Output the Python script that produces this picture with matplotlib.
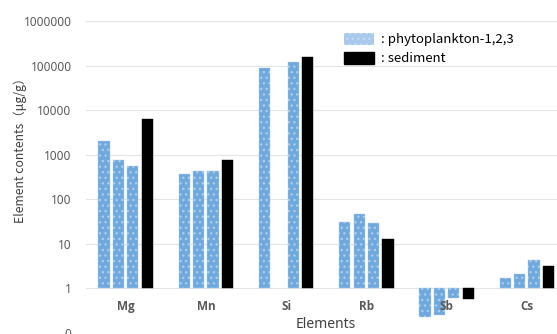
import numpy as np
import matplotlib
matplotlib.use('Agg')
import matplotlib.pyplot as plt
from matplotlib.patches import Patch
from matplotlib.ticker import FixedLocator, FuncFormatter, NullLocator
from matplotlib.transforms import blended_transform_factory, offset_copy

elements = ['Mg', 'Mn', 'Si', 'Rb', 'Sb', 'Cs']
phyto_1 = [1980, 360, 87000, 30.5, 0.226, 1.71]
phyto_2 = [750, 440, np.nan, 46.5, 0.247, 2.14]
phyto_3 = [560, 440, 118000, 30.0, 0.62, 4.42]
sediment = [6350, 750, 158000, 12.6, 0.575, 3.24]
y_ticks = [0.1, 1, 10, 100, 1000, 10000, 100000, 1000000]

plt.rcParams['font.family'] = ['Noto Sans', 'DejaVu Sans']
plt.rcParams['hatch.linewidth'] = 1.0

fig = plt.figure(figsize=(5.57, 3.34), dpi=100)
# plot area runs off the right and bottom of the picture, as in the reference
ax = fig.add_axes([85.5 / 557, 1 - 333 / 334, 481.5 / 557, 312 / 334])

x = np.arange(len(elements))
pitch = 0.18
width = 0.14
blue = '#6ea8dc'
hatch_col = '#a9cdef'

for k, vals in enumerate([phyto_1, phyto_2, phyto_3]):
    vals = np.array(vals, dtype=float)
    ax.bar(x + (k - 1.5) * pitch, vals - 1, bottom=1, width=width,
           color=blue, edgecolor=hatch_col, hatch='...', linewidth=0.3, zorder=3)
sed = np.array(sediment, dtype=float)
ax.bar(x + 1.5 * pitch, sed - 1, bottom=1, width=width,
       color='black', edgecolor='black', linewidth=0.3, zorder=3)

ax.set_yscale('log')
ax.set_ylim(0.1, 1000000)
ax.set_xlim(-0.5, len(elements) - 0.5)
ax.yaxis.set_major_locator(FixedLocator(y_ticks))
ax.yaxis.set_minor_locator(NullLocator())
ax.yaxis.set_major_formatter(FuncFormatter(lambda v, p: '%d' % int(v)))
ax.grid(axis='y', color='#e3e3e3', linewidth=0.8, zorder=0)

for s in ['top', 'right', 'left', 'bottom']:
    ax.spines[s].set_visible(False)

# category labels sit just under the y=1 baseline, above the Sb bars
ax.set_xticks([])
trans = offset_copy(blended_transform_factory(ax.transData, ax.transData),
                    fig=fig, x=0, y=-18.5, units='dots')
for xi, name in zip(x, elements):
    ax.text(xi, 1, name, transform=trans, ha='center', va='center',
            fontsize=8.5, fontweight='bold', family='Open Sans',
            color='#595959', zorder=5)

ax.tick_params(axis='both', length=0, labelsize=8.5, labelcolor='#595959')
ax.tick_params(axis='y', pad=10)

ax.set_xlabel('Elements', fontsize=10, color='#404040')
ax.xaxis.set_label_coords(0.5, 1 - (325 - 21) / 312)
ax.xaxis.label.set_va('center')
ax.set_ylabel('Element contents（μg/g）', fontsize=8.8, color='#404040',
              family=['Noto Sans CJK JP', 'DejaVu Sans'])
ax.yaxis.set_label_coords(-0.136, 0.596)
ax.yaxis.label.set_va('center')

handles = [Patch(facecolor='#a9c9ec', edgecolor='#c3daf3', hatch='...', linewidth=0),
           Patch(facecolor='black', edgecolor='black')]
fig.legend(handles, [': phytoplankton-1,2,3', ': sediment'],
           loc='upper left', bbox_to_anchor=(344 / 557, 1 - 32.5 / 334),
           frameon=False, borderpad=0, borderaxespad=0,
           handlelength=2.3, handleheight=1.1, handletextpad=0.5, labelspacing=0.4,
           prop={'family': ['Noto Sans CJK JP', 'DejaVu Sans'], 'size': 9.5})

fig.savefig('out.png', dpi=100)
